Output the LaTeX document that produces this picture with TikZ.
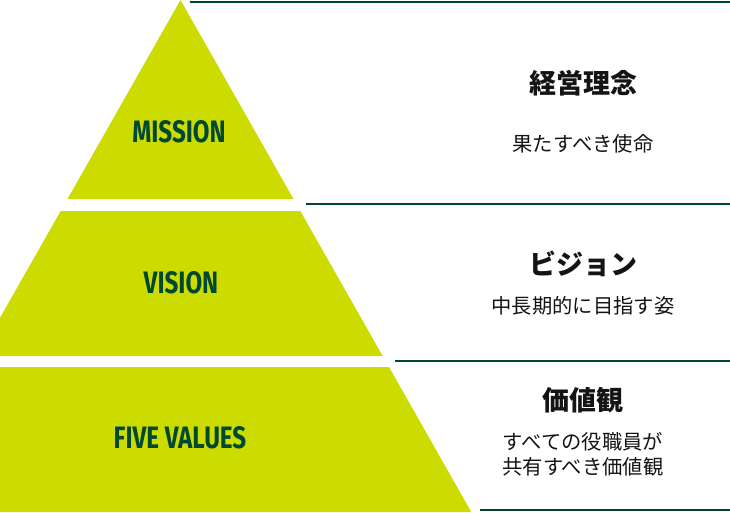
\documentclass[tikz,border=0pt]{standalone}
\usepackage{fontspec}
\newfontfamily\condfont[FakeStretch=0.78]{Fira Sans}
\newfontfamily\cjk{Noto Sans CJK JP}
\definecolor{lime}{RGB}{205,220,0}
\definecolor{dgreen}{RGB}{0,72,48}
\definecolor{txt}{RGB}{20,20,20}
\begin{document}
\begin{tikzpicture}[x=1pt,y=-1pt,
  layer/.style={fill=lime,draw=none},
  rule/.style={draw=dgreen,line width=2pt},
  lbl/.style={text=dgreen,font=\condfont\bfseries\fontsize{31}{31}\selectfont,inner sep=0pt,anchor=center},
  ttl/.style={text=txt,font=\cjk\bfseries\fontsize{27}{30}\selectfont,inner sep=0pt,anchor=center},
  sub/.style={text=txt,font=\cjk\fontsize{20.3}{25.5}\selectfont,inner sep=0pt,anchor=center,align=center}]
\useasboundingbox (0,0) rectangle (730,512);
\begin{scope}
\clip (0,0) rectangle (730,512);
\fill[layer] (180.5,0) -- (293.5,199) -- (67.5,199) -- cycle;
\fill[layer] (60.7,211) -- (300.3,211) -- (382.7,356) -- (-21.7,356) -- cycle;
\fill[layer] (-28,367) -- (389,367) -- (471.3,512) -- (-28,512) -- cycle;
\end{scope}
\coordinate (r1a) at (190,1.8); \coordinate (r1b) at (730,1.8);
\coordinate (r2a) at (306,204); \coordinate (r2b) at (730,204);
\coordinate (r3a) at (395,361); \coordinate (r3b) at (730,361);
\coordinate (r4a) at (480,510); \coordinate (r4b) at (730,510);
\draw[rule] (r1a) -- (r1b);
\draw[rule] (r2a) -- (r2b);
\draw[rule] (r3a) -- (r3b);
\draw[rule] (r4a) -- (r4b);
\node[lbl] (mission) at (179,132) {MISSION};
\node[lbl] (vision) at (181,283) {VISION};
\node[lbl] (values) at (180,438) {FIVE VALUES};
\node[ttl] (t1) at (583,83) {経営理念};
\node[sub] (s1) at (583,144) {果たすべき使命};
\node[ttl] (t2) at (583,264) {ビジョン};
\node[sub] (s2) at (583,306) {中長期的に目指す姿};
\node[ttl] (t3) at (583,400) {価値観};
\node[sub] (s3) at (583,454) {すべての役職員が\\共有すべき価値観};
\end{tikzpicture}
\end{document}
